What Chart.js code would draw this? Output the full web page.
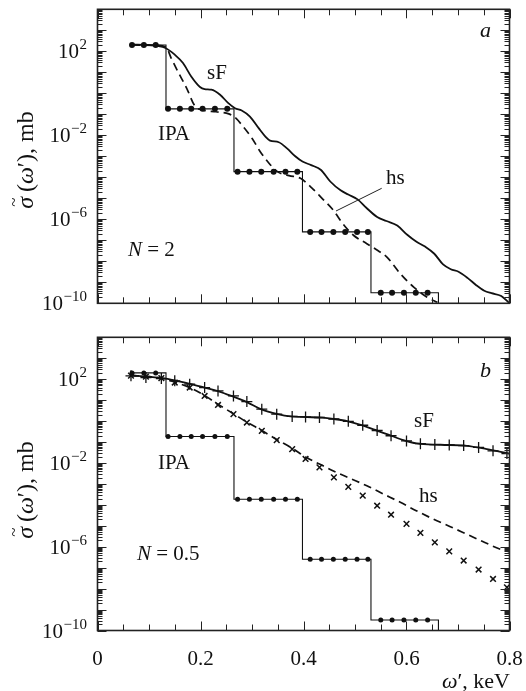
<!DOCTYPE html>
<html lang="en">
<head>
<meta charset="UTF-8">
<title>sigma(omega') - N = 2 and N = 0.5</title>
<script src="https://cdn.jsdelivr.net/npm/chart.js"></script>
<style>
  body { margin: 0; background: #fff; }
  #wrap { position: relative; width: 526px; height: 691px; }
  canvas { position: absolute; left: 0; }
  #topChart { top: 0; }
  #bottomChart { top: 330px; }
</style>
</head>
<body>
<div id="wrap">
  <canvas id="topChart" width="526" height="330"></canvas>
  <canvas id="bottomChart" width="526" height="361"></canvas>
</div>
<script>
// ---- axes ----
const xTicks = [0, 0.05, 0.1, 0.15, 0.2, 0.25, 0.3, 0.35, 0.4, 0.45, 0.5, 0.55, 0.6, 0.65, 0.7, 0.75, 0.8];
const xTickLabels = ['0', '0.2', '0.4', '0.6', '0.8'];
const xLabelValues = [0, 0.2, 0.4, 0.6, 0.8];
const yDecades = [-10, -9, -8, -7, -6, -5, -4, -3, -2, -1, 0, 1, 2, 3, 4];
const yLabelExps = [2, -2, -6, -10];

// ---- IPA step (same in both panels), values are log10(mb) ----
const ipaStepX = [0.067, 0.133, 0.265, 0.398, 0.531, 0.662, 0.662];
const ipaStepLog = [2.3, -0.74, -3.73, -6.6, -9.5, -9.5, -10];
const ipaDotX = [0.067, 0.090, 0.113,
  0.137, 0.160, 0.182, 0.204, 0.228, 0.252,
  0.272, 0.295, 0.318, 0.342, 0.365, 0.388,
  0.413, 0.435, 0.458, 0.481, 0.504, 0.525,
  0.550, 0.572, 0.595, 0.618, 0.641];
const ipaDotLog = [2.3, 2.3, 2.3,
  -0.74, -0.74, -0.74, -0.74, -0.74, -0.74,
  -3.73, -3.73, -3.73, -3.73, -3.73, -3.73,
  -6.6, -6.6, -6.6, -6.6, -6.6, -6.6,
  -9.5, -9.5, -9.5, -9.5, -9.5];

// ---- panel a (N = 2) ----
const sfAX = [0.067, 0.100, 0.117, 0.132, 0.150, 0.166, 0.182, 0.199, 0.208, 0.221, 0.238, 0.254, 0.267, 0.280,
  0.296, 0.313, 0.326, 0.335, 0.352, 0.368, 0.384, 0.398, 0.415, 0.434, 0.452, 0.472, 0.487, 0.505, 0.522,
  0.543, 0.561, 0.582, 0.602, 0.618, 0.636, 0.654, 0.671, 0.686, 0.701, 0.719, 0.736, 0.751, 0.765, 0.784, 0.800];
const sfALog = [2.32, 2.30, 2.26, 2.16, 1.84, 1.44, 0.80, 0.30, 0.20, 0.17, -0.07, -0.47, -0.71, -0.82,
  -1.11, -1.66, -2.06, -2.25, -2.33, -2.62, -3.00, -3.25, -3.42, -3.65, -4.20, -4.62, -4.82, -5.05, -5.45,
  -5.89, -6.08, -6.30, -6.75, -7.05, -7.30, -7.64, -8.15, -8.38, -8.50, -8.80, -9.15, -9.40, -9.52, -9.65, -10.0];
const hsAX = [0.067, 0.113, 0.133, 0.143, 0.156, 0.173, 0.189, 0.205, 0.230, 0.255, 0.267, 0.280, 0.300, 0.316,
  0.333, 0.350, 0.372, 0.394, 0.416, 0.436, 0.458, 0.476, 0.497, 0.523, 0.545, 0.562, 0.588, 0.614, 0.640, 0.660];
const hsALog = [2.3, 2.28, 2.2, 1.68, 1.04, 0.25, -0.6, -0.8, -0.88, -0.98, -1.15, -1.5, -2.14, -2.78,
  -3.33, -3.74, -3.92, -4.05, -4.5, -5.0, -5.57, -6.2, -6.76, -7.16, -7.5, -7.8, -8.59, -9.23, -9.71, -9.95];

// ---- panel b (N = 0.5) ----
const sfBX = [0.065, 0.100, 0.130, 0.150, 0.180, 0.208, 0.235, 0.260, 0.292, 0.317, 0.350, 0.375, 0.407, 0.437,
  0.458, 0.486, 0.511, 0.536, 0.562, 0.594, 0.620, 0.666, 0.717, 0.756, 0.800];
const sfBLog = [2.18, 2.12, 2.04, 1.94, 1.78, 1.60, 1.42, 1.20, 0.88, 0.57, 0.33, 0.22, 0.19, 0.16,
  0.10, -0.01, -0.18, -0.40, -0.62, -0.91, -1.07, -1.13, -1.18, -1.34, -1.55];
const hsBX = [0.065, 0.100, 0.130, 0.150, 0.179, 0.208, 0.234, 0.264, 0.290, 0.319, 0.348, 0.378, 0.406,
  0.431, 0.457, 0.490, 0.523, 0.555, 0.588, 0.619, 0.652, 0.684, 0.716, 0.748, 0.781, 0.800];
const hsBLog = [2.18, 2.12, 2.02, 1.86, 1.60, 1.22, 0.80, 0.35, -0.05, -0.45, -0.88, -1.30, -1.74,
  -2.05, -2.37, -2.73, -3.09, -3.48, -3.88, -4.28, -4.68, -5.03, -5.39, -5.75, -6.11, -6.25];
// markers: + follow sF, x follow the exact result below hs
const markX = [0.065, 0.094, 0.124, 0.150, 0.179, 0.208, 0.234, 0.264, 0.290, 0.319, 0.348, 0.378, 0.404,
  0.431, 0.459, 0.487, 0.515, 0.543, 0.570, 0.600, 0.627, 0.655, 0.683, 0.711, 0.740, 0.768, 0.795];
const plusLog = [2.16, 2.08, 2.03, 1.92, 1.76, 1.60, 1.44, 1.20, 0.93, 0.57, 0.33, 0.22, 0.20,
  0.17, 0.10, -0.01, -0.20, -0.45, -0.70, -0.95, -1.08, -1.12, -1.14, -1.17, -1.26, -1.42, -1.55];
const crossLog = [2.17, 2.12, 2.05, 1.84, 1.60, 1.20, 0.77, 0.33, -0.07, -0.47, -0.91, -1.34, -1.81,
  -2.21, -2.69, -3.14, -3.56, -4.04, -4.47, -4.91, -5.34, -5.79, -6.22, -6.66, -7.09, -7.54, -7.94];

const pts = (xs, logs) => xs.map((x, i) => ({ x: x, y: Math.pow(10, logs[i]) }));
const SERIF = '"Liberation Serif", "Times New Roman", serif';
const INK = '#111';

// draws frame, inward ticks, labels and notes
const panelDecor = {
  id: 'panelDecor',
  afterDraw(chart, args, o) {
    const { ctx, chartArea: a, scales: { x, y } } = chart;
    ctx.save();
    ctx.strokeStyle = '#222';
    ctx.lineWidth = 1;
    const seg = (x1, y1, x2, y2) => { ctx.beginPath(); ctx.moveTo(x1, y1); ctx.lineTo(x2, y2); ctx.stroke(); };
    xTicks.forEach(v => {
      const px = Math.round(x.getPixelForValue(v)) + 0.5;
      const len = xLabelValues.some(m => Math.abs(m - v) < 1e-9) ? 9 : 6;
      seg(px, a.bottom, px, a.bottom - len);
      seg(px, a.top, px, a.top + len);
    });
    yDecades.forEach(e => {
      for (let m = 1; m < 10; m++) {
        if (e === 4 && m > 1) break;
        const py = Math.round(y.getPixelForValue(m * Math.pow(10, e))) + 0.5;
        const len = m === 1 ? 9 : 5;
        seg(a.left, py, a.left + len, py);
        seg(a.right, py, a.right - len, py);
      }
    });
    ctx.lineWidth = 1.6;
    ctx.strokeRect(a.left, a.top, a.right - a.left, a.bottom - a.top);

    ctx.fillStyle = INK;
    ctx.textBaseline = 'alphabetic';
    // y tick labels
    yLabelExps.forEach(e => {
      const py = y.getPixelForValue(Math.pow(10, e));
      const ex = (e < 0 ? '\u2212' : '') + Math.abs(e);
      ctx.font = '15px ' + SERIF;
      const ew = ctx.measureText(ex).width;
      ctx.textAlign = 'left';
      ctx.fillText(ex, 87 - ew, py - 2);
      ctx.font = '21px ' + SERIF;
      ctx.textAlign = 'right';
      ctx.fillText('10', 87 - ew - 0.5, py + 7);
    });
    // x tick labels
    if (o.xLabels) {
      ctx.font = '21px ' + SERIF;
      ctx.textAlign = 'center';
      xLabelValues.forEach((v, i) => ctx.fillText(xTickLabels[i], x.getPixelForValue(v), a.bottom + 34));
      drawRuns(ctx, [['\u03C9', 'italic '], ['\u2032, keV', '']], 510, a.bottom + 57, 'right', 22);
    }
    // y title, rotated
    ctx.save();
    ctx.translate(33, o.titleY);
    ctx.rotate(-Math.PI / 2);
    const w = drawRuns(ctx, [['\u03C3', 'italic '], ['\u2009(', ''], ['\u03C9', 'italic '], ['\u2032), mb', '']], 0, 0, 'center', 24);
    ctx.font = '17px ' + SERIF;
    ctx.textAlign = 'left';
    ctx.fillText('~', -w / 2 + 2, -14);
    ctx.restore();
    // panel notes
    ctx.textAlign = 'left';
    ctx.font = 'italic 22px ' + SERIF;
    ctx.fillText(o.letter, 480, o.letterY);
    ctx.font = '21px ' + SERIF;
    o.notes.forEach(n => ctx.fillText(n.t, n.x, n.y));
    drawRuns(ctx, [['N', 'italic '], [' = ' + o.n, '']], o.nX, o.nY, 'left', 21);
    if (o.leader) {
      ctx.lineWidth = 1;
      seg(o.leader[0], o.leader[1], o.leader[2], o.leader[3]);
    }
    ctx.restore();
  }
};

function drawRuns(ctx, runs, x0, y0, align, size) {
  let total = 0;
  runs.forEach(r => { ctx.font = r[1] + size + 'px ' + SERIF; total += ctx.measureText(r[0]).width; });
  let x = align === 'right' ? x0 - total : align === 'center' ? x0 - total / 2 : x0;
  ctx.textAlign = 'left';
  runs.forEach(r => {
    ctx.font = r[1] + size + 'px ' + SERIF;
    ctx.fillText(r[0], x, y0);
    x += ctx.measureText(r[0]).width;
  });
  return total;
}

function baseOptions(pad, decor) {
  return {
    responsive: false,
    animation: false,
    events: [],
    layout: { padding: pad },
    plugins: { legend: { display: false }, tooltip: { enabled: false }, panelDecor: decor },
    scales: {
      x: { type: 'linear', min: 0, max: 0.8, display: false },
      y: { type: 'logarithmic', min: 1e-10, max: 1e4, display: false }
    }
  };
}

const lineSet = (data, extra) => Object.assign({
  data: data, borderColor: INK, borderWidth: 1.8, pointRadius: 0,
  cubicInterpolationMode: 'monotone', fill: false
}, extra);

const ipaLine = () => ({ data: pts(ipaStepX, ipaStepLog), borderColor: INK, borderWidth: 1.1, pointRadius: 0, stepped: 'before', fill: false });
const ipaDots = r => ({ data: pts(ipaDotX, ipaDotLog), showLine: false, pointRadius: r, pointBackgroundColor: INK, pointBorderColor: INK, pointBorderWidth: 0 });

new Chart(document.getElementById('topChart'), {
  type: 'line',
  data: {
    datasets: [
      ipaLine(),
      lineSet(pts(hsAX, hsALog), { borderWidth: 1.7, borderDash: [8, 5] }),
      lineSet(pts(sfAX, sfALog)),
      ipaDots(3)
    ]
  },
  options: baseOptions({ left: 97.5, right: 16.5, top: 9.3, bottom: 26.7 }, {
    letter: 'a', letterY: 37, titleY: 160,
    notes: [{ t: 'sF', x: 207, y: 79 }, { t: 'IPA', x: 158, y: 140 }, { t: 'hs', x: 386, y: 184 }],
    n: '2', nX: 128, nY: 256,
    leader: [381.7, 188.3, 336, 211],
    xLabels: false
  }),
  plugins: [panelDecor]
});

new Chart(document.getElementById('bottomChart'), {
  type: 'line',
  data: {
    datasets: [
      ipaLine(),
      lineSet(pts(hsBX, hsBLog), { borderWidth: 1.7, borderDash: [8, 5] }),
      lineSet(pts(sfBX, sfBLog)),
      ipaDots(2.5),
      { data: pts(markX, plusLog), showLine: false, pointStyle: 'cross', pointRadius: 5.5, pointBorderColor: INK, pointBorderWidth: 1.3 },
      { data: pts(markX, crossLog), showLine: false, pointStyle: 'crossRot', pointRadius: 4, pointBorderColor: INK, pointBorderWidth: 1.5 }
    ]
  },
  options: baseOptions({ left: 97.5, right: 16.5, top: 7.3, bottom: 60.5 }, {
    letter: 'b', letterY: 47, titleY: 160,
    notes: [{ t: 'sF', x: 414, y: 97 }, { t: 'IPA', x: 158, y: 139 }, { t: 'hs', x: 419, y: 172 }],
    n: '0.5', nX: 137, nY: 230,
    xLabels: true
  }),
  plugins: [panelDecor]
});
</script>
</body>
</html>
